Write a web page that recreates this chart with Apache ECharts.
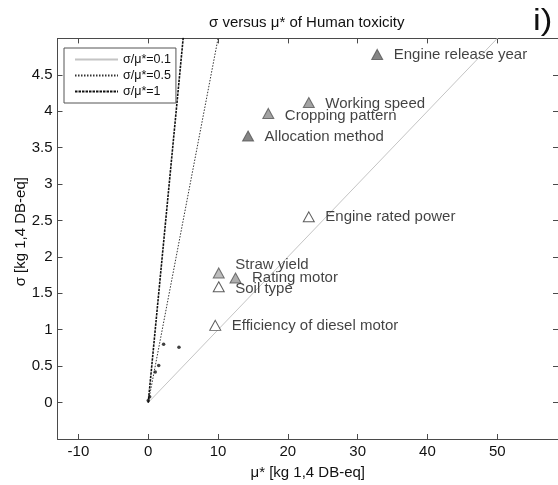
<!DOCTYPE html>
<html>
<head>
<meta charset="utf-8">
<script src="https://cdn.jsdelivr.net/npm/echarts@6/dist/echarts.min.js"></script>
<style>
html,body{margin:0;padding:0;background:#fff;}
#chart{width:558px;height:485px;}
</style>
</head>
<body>
<div id="chart"></div>
<script>
// ---- data ----
const factorNames = ["Engine release year","Working speed","Cropping pattern","Allocation method","Engine rated power","Straw yield","Rating motor","Soil type","Efficiency of diesel motor"];
const factorMu    = [32.8, 23.0, 17.2, 14.3, 23.0, 10.1, 12.5, 10.1, 9.6];
const factorSigma = [4.78, 4.12, 3.97, 3.66, 2.55, 1.78, 1.71, 1.59, 1.06];

const minorMu    = [0.0, 0.2, 1.0, 1.5, 2.2, 4.4];
const minorSigma = [0.03, 0.08, 0.42, 0.51, 0.80, 0.76];

const ratioNames = ["σ/μ*=0.1", "σ/μ*=0.5", "σ/μ*=1"];
const ratioLine01 = [[0, 0], [60, 6]];
const ratioLine05 = [[0, 0], [12, 6]];
const ratioLine1  = [[0, 0], [6, 6]];

const xTicks = [-10, 0, 10, 20, 30, 40, 50];
const yTicks = [0, 0.5, 1, 1.5, 2, 2.5, 3, 3.5, 4, 4.5];

// ---- styles ----
const FONT = "Liberation Sans, Arial, sans-serif";
const markerFill = {
  "Engine release year": "#686868",
  "Working speed": "#8c8c8c",
  "Cropping pattern": "#8c8c8c",
  "Allocation method": "#666666",
  "Engine rated power": "#ffffff",
  "Straw yield": "#acacac",
  "Rating motor": "#9a9a9a",
  "Soil type": "#ffffff",
  "Efficiency of diesel motor": "#ffffff"
};
const labelShift = {
  "Engine release year": [0, 0],
  "Working speed": [0, 1],
  "Cropping pattern": [0, 2],
  "Allocation method": [0, 1],
  "Engine rated power": [0, 0],
  "Straw yield": [0, -8],
  "Rating motor": [0, 0],
  "Soil type": [0, 2],
  "Efficiency of diesel motor": [0, 0]
};

const factorData = factorNames.map((n, i) => ({
  name: n,
  value: [factorMu[i], factorSigma[i]],
  itemStyle: {
    color: markerFill[n],
    borderColor: markerFill[n] === "#ffffff" ? "#333333" : "#555555",
    borderWidth: 1
  },
  label: { offset: labelShift[n] }
}));

const minorData = minorMu.map((m, i) => [m, minorSigma[i]]);

const axisCol = "#4a4a4a";
const textCol = "#111111";

const chart = echarts.init(document.getElementById('chart'), null, { renderer: 'canvas' });
chart.setOption({
  animation: false,
  backgroundColor: '#ffffff',
  title: {
    text: "σ versus μ* of Human toxicity",
    left: 209, top: 15, padding: 0,
    textStyle: { fontFamily: FONT, fontSize: 15, fontWeight: 'normal', color: textCol }
  },
  graphic: [{
    type: 'text', left: 533, top: 7, scaleX: 1.2,
    style: { text: 'i)', fontFamily: FONT, fontSize: 29, fill: textCol }
  }],
  legend: {
    orient: 'vertical',
    left: 64, top: 48,
    padding: [5, 5, 5, 10],
    itemWidth: 43, itemHeight: 10, itemGap: 3,
    borderColor: '#555555', borderWidth: 1,
    backgroundColor: '#ffffff',
    data: ratioNames,
    itemStyle: { color: 'transparent', borderWidth: 0, opacity: 0 },
    textStyle: { fontFamily: FONT, fontSize: 12.5, color: textCol }
  },
  grid: { left: 57.5, top: 38.4, width: 502, height: 401, containLabel: false },
  xAxis: [{
    type: 'value', min: -13, max: 58.7, position: 'bottom',
    name: "μ* [kg 1,4 DB-eq]", nameLocation: 'middle', nameGap: 26, nameMoveOverlap: false,
    nameTextStyle: { fontFamily: FONT, fontSize: 15, color: textCol },
    axisLine: { show: true, onZero: false, lineStyle: { color: axisCol, width: 1 } },
    axisTick: { show: true, inside: true, length: 5, customValues: xTicks, lineStyle: { color: axisCol } },
    axisLabel: { customValues: xTicks, fontFamily: FONT, fontSize: 15, color: textCol, margin: 5 },
    splitLine: { show: false }
  }, {
    type: 'value', min: -13, max: 58.7, position: 'top',
    axisLine: { show: true, onZero: false, lineStyle: { color: axisCol, width: 1 } },
    axisTick: { show: true, inside: true, length: 5, customValues: xTicks, lineStyle: { color: axisCol } },
    axisLabel: { show: false },
    splitLine: { show: false }
  }],
  yAxis: [{
    type: 'value', min: -0.5, max: 5, interval: 0.5, position: 'left',
    name: "σ [kg 1,4 DB-eq]", nameLocation: 'middle', nameGap: 29, nameRotate: 90, nameMoveOverlap: false,
    nameTextStyle: { fontFamily: FONT, fontSize: 15, color: textCol, padding: [0, 0, 0, 14] },
    axisLine: { show: true, onZero: false, lineStyle: { color: axisCol, width: 1 } },
    axisTick: { show: true, inside: true, length: 5, customValues: yTicks, lineStyle: { color: axisCol } },
    axisLabel: { customValues: yTicks, fontFamily: FONT, fontSize: 15, color: textCol, margin: 5 },
    splitLine: { show: false }
  }, {
    type: 'value', min: -0.5, max: 5, interval: 0.5, position: 'right',
    axisLine: { show: true, onZero: false, lineStyle: { color: axisCol, width: 1 } },
    axisTick: { show: true, inside: true, length: 5, customValues: yTicks, lineStyle: { color: axisCol } },
    axisLabel: { show: false },
    splitLine: { show: false }
  }],
  series: [
    {
      name: ratioNames[0], type: 'line', data: ratioLine01, symbol: 'none', clip: true, z: 1,
      lineStyle: { color: '#c4c4c4', width: 1, type: 'solid' }, itemStyle: { color: '#c4c4c4' }
    },
    {
      name: ratioNames[1], type: 'line', data: ratioLine05, symbol: 'none', clip: true, z: 1,
      lineStyle: { color: '#333333', width: 1, type: [1.5, 1.5] }, itemStyle: { color: '#333333' }
    },
    {
      name: ratioNames[2], type: 'line', data: ratioLine1, symbol: 'none', clip: true, z: 1,
      lineStyle: { color: '#111111', width: 1.6, type: [2.5, 1] }, itemStyle: { color: '#111111' }
    },
    {
      name: 'minor', type: 'scatter', data: minorData, symbol: 'circle', symbolSize: 3.5, z: 3,
      itemStyle: { color: '#111111' }
    },
    {
      name: 'factors', type: 'scatter', data: factorData, symbol: 'triangle', symbolSize: [11, 10], z: 4,
      label: {
        show: true, position: 'right', distance: 10.5,
        formatter: p => p.name,
        fontFamily: FONT, fontSize: 15, color: textCol
      }
    }
  ]
});
</script>
</body>
</html>
